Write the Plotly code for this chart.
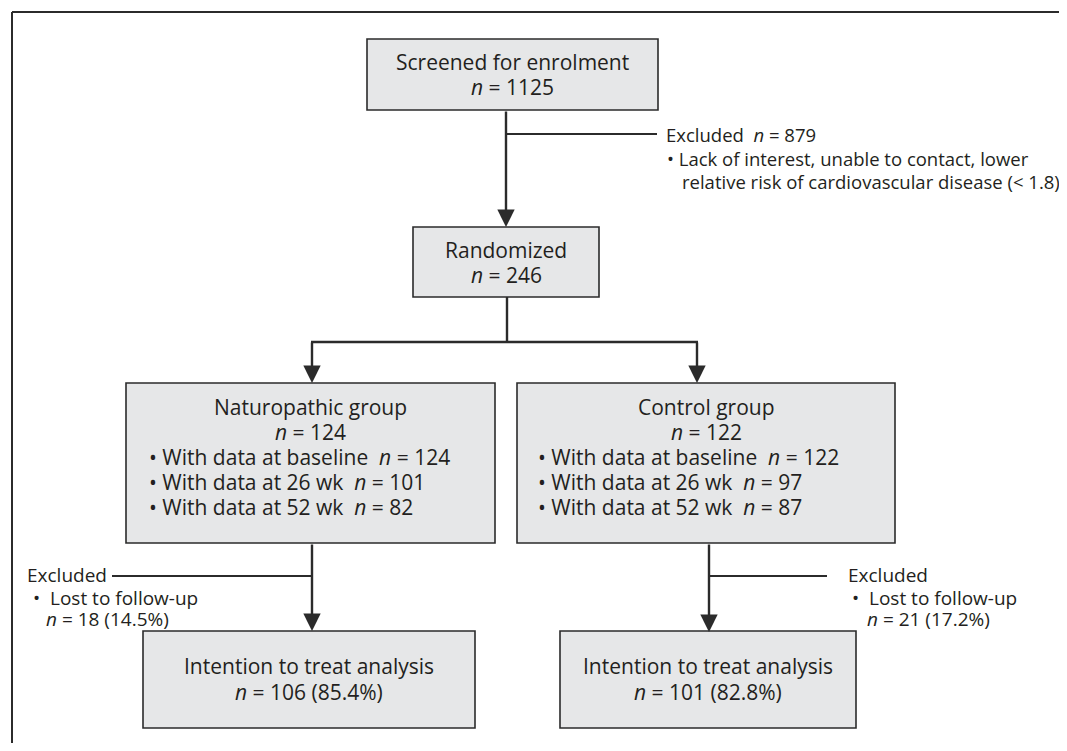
import plotly.graph_objects as go

# ---- data (counts from the flow diagram) ----
screened_n = 1125
excluded_n = 879
randomized_n = 246
group_names = ["Naturopathic group", "Control group"]
group_n = [124, 122]
baseline_n = [124, 122]
wk26_n = [101, 97]
wk52_n = [82, 87]
lost_n = [18, 21]
lost_pct = [14.5, 17.2]
itt_n = [106, 101]
itt_pct = [85.4, 82.8]
exclusion_reason = ["Lack of interest, unable to contact, lower",
                    "relative risk of cardiovascular disease (< 1.8)"]

PAGE_W, PAGE_H = 1067, 751
OFF = 8  # default page body margin
FILL = "#e6e7e8"
EDGE = "#2b2b2b"
TXT = "#231f20"
FONT = "Open Sans"
FS_BOX = 21
FS_SIDE = 18.5
FS_LOW = 19
NB = "\u00a0"

fig = go.Figure()
fig.update_xaxes(range=[OFF, PAGE_W - OFF], visible=False, fixedrange=True)
fig.update_yaxes(range=[PAGE_H - OFF, OFF], visible=False, fixedrange=True)

shapes = []
annotations = []


def box(x0, y0, x1, y1):
    shapes.append(dict(type="rect", x0=x0, y0=y0, x1=x1, y1=y1, xref="x", yref="y",
                       fillcolor=FILL, line=dict(color=EDGE, width=1.6), layer="below"))


def line(x0, y0, x1, y1, w=2.4):
    shapes.append(dict(type="line", x0=x0, y0=y0, x1=x1, y1=y1, xref="x", yref="y",
                       line=dict(color=EDGE, width=w)))


def arrow(x, y0, y1):
    annotations.append(dict(x=x, y=y1, ax=x, ay=y0, xref="x", yref="y", axref="x", ayref="y",
                            text="", showarrow=True, arrowhead=2, arrowsize=1.45,
                            arrowwidth=2.4, arrowcolor=EDGE, standoff=0, startstandoff=0))


def text(x, y, s, xanchor="center", size=FS_BOX):
    annotations.append(dict(x=x, y=y, xref="x", yref="y", text=s, showarrow=False,
                            xanchor=xanchor, yanchor="middle", align="left",
                            font=dict(family=FONT, size=size, color=TXT)))


def n_eq(v):
    return f"<i>n</i> = {v}"


# frame
line(12, 12, PAGE_W + 5, 12, w=2)
line(12, 12, 12, PAGE_H + 5, w=2)

# screened box
box(367, 39, 658, 110)
text(512, 62, "Screened for enrolment")
text(512, 87, n_eq(screened_n))

# arrow to randomized + exclusion branch
arrow(506, 110, 227)
line(506, 134, 657, 134, w=2)
text(664, 134, f"Excluded{NB}{NB}{n_eq(excluded_n)}", xanchor="left", size=FS_SIDE)
text(665, 158, f"•{NB}{exclusion_reason[0]}", xanchor="left", size=FS_SIDE)
text(680, 181, exclusion_reason[1], xanchor="left", size=FS_SIDE)

# randomized box
box(413, 227, 599, 297)
text(506, 250, "Randomized")
text(506, 275, n_eq(randomized_n))

# split
line(507, 297, 507, 342)
line(311, 342, 698, 342)
arrow(312, 341, 383)
arrow(697, 341, 383)

# group boxes
gx = [(126, 495), (517, 895)]
bullet_x = [147, 536]
for i in range(2):
    x0, x1 = gx[i]
    box(x0, 383, x1, 543)
    cx = (x0 + x1) / 2
    text(cx, 407, group_names[i])
    text(cx, 432, n_eq(group_n[i]))
    rows = [f"•{NB}With data at baseline{NB}{NB}{n_eq(baseline_n[i])}",
            f"•{NB}With data at 26 wk{NB}{NB}{n_eq(wk26_n[i])}",
            f"•{NB}With data at 52 wk{NB}{NB}{n_eq(wk52_n[i])}"]
    for k, r in enumerate(rows):
        text(bullet_x[i], 457 + 25 * k, r, xanchor="left")

# bottom arrows and exclusions
arrow(312, 543, 631)
arrow(709, 543, 632)
line(112, 576, 312, 576, w=2)
line(709, 576, 827, 576, w=2)

side_x = [(25, 31, 44), (846, 850, 865)]
for i in range(2):
    ex, bx, tx = side_x[i]
    text(ex, 575, "Excluded", xanchor="left", size=FS_LOW)
    text(bx, 598, f"•{NB}{NB}Lost to follow-up", xanchor="left", size=FS_LOW)
    text(tx, 619, f"{n_eq(lost_n[i])} ({lost_pct[i]}%)", xanchor="left", size=FS_LOW)

# intention-to-treat boxes
ix = [(143, 475), (560, 856)]
for i in range(2):
    x0, x1 = ix[i]
    box(x0, 631, x1, 728)
    cx = (x0 + x1) / 2
    text(cx, 666, "Intention to treat analysis")
    text(cx, 692, f"{n_eq(itt_n[i])} ({itt_pct[i]}%)")

fig.update_layout(width=PAGE_W - 2 * OFF, height=PAGE_H - 2 * OFF,
                  margin=dict(l=0, r=0, t=0, b=0),
                  paper_bgcolor="white", plot_bgcolor="white",
                  shapes=shapes, annotations=annotations, showlegend=False)

fig.write_html("out.html")
